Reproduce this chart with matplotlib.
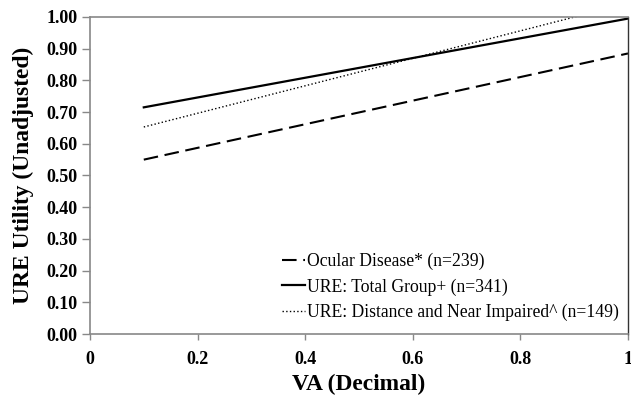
import matplotlib
matplotlib.use("Agg")
import matplotlib.pyplot as plt

# values (end points of each fitted line)
va = [0.1, 1.0]
ocular = [0.55, 0.885]
total_group = [0.715, 0.995]
dist_near = [0.653, 1.043]

labels = [
    "Ocular Disease* (n=239)",
    "URE: Total Group+ (n=341)",
    "URE: Distance and Near Impaired^ (n=149)",
]
x_ticks = [0, 0.2, 0.4, 0.6, 0.8, 1.0]
x_tick_labels = ["0", "0.2", "0.4", "0.6", "0.8", "1"]
y_ticks = [i / 10 for i in range(11)]

plt.rcParams["font.family"] = ["Liberation Serif", "DejaVu Serif"]

fig = plt.figure(figsize=(6.31, 3.98), dpi=100)
ax = fig.add_axes([0.1426, 0.1608, 0.8526, 0.7965])

ax.plot(va, ocular, color="black", lw=1.5, dashes=(7, 3.2), label=labels[0])
ax.plot(va, total_group, color="black", lw=1.6, label=labels[1])
ax.plot(va, dist_near, color="black", lw=1.0, ls=":", label=labels[2])

ax.set_xlim(0, 1)
ax.set_ylim(0, 1)
ax.set_xticks(x_ticks)
ax.set_xticklabels(x_tick_labels)
ax.set_yticks(y_ticks)
ax.set_yticklabels([f"{v:.2f}" for v in y_ticks])

for lab in ax.get_xticklabels() + ax.get_yticklabels():
    lab.set_fontweight("bold")
    lab.set_fontsize(13)

ax.tick_params(direction="out", width=1, color="#888888")
ax.tick_params(axis="x", length=4, pad=8)
ax.tick_params(axis="y", length=6, pad=3)

for side in ["left", "bottom", "top"]:
    ax.spines[side].set_color("#888888")
    ax.spines[side].set_linewidth(1.2)
ax.spines["right"].set_color("#333333")
ax.spines["right"].set_linewidth(1.0)

ax.set_xlabel("VA (Decimal)", fontsize=16.9, fontweight="bold", labelpad=4.5)
ax.set_ylabel("URE Utility (Unadjusted)", fontsize=16.9, fontweight="bold", labelpad=9)

ax.legend(loc="lower right", frameon=False, fontsize=12.7, handlelength=1.3,
          handletextpad=0.1, labelspacing=0.45, borderpad=0.2,
          borderaxespad=0.0, bbox_to_anchor=(0.99, 0.03))

fig.savefig("out.png", dpi=100)
